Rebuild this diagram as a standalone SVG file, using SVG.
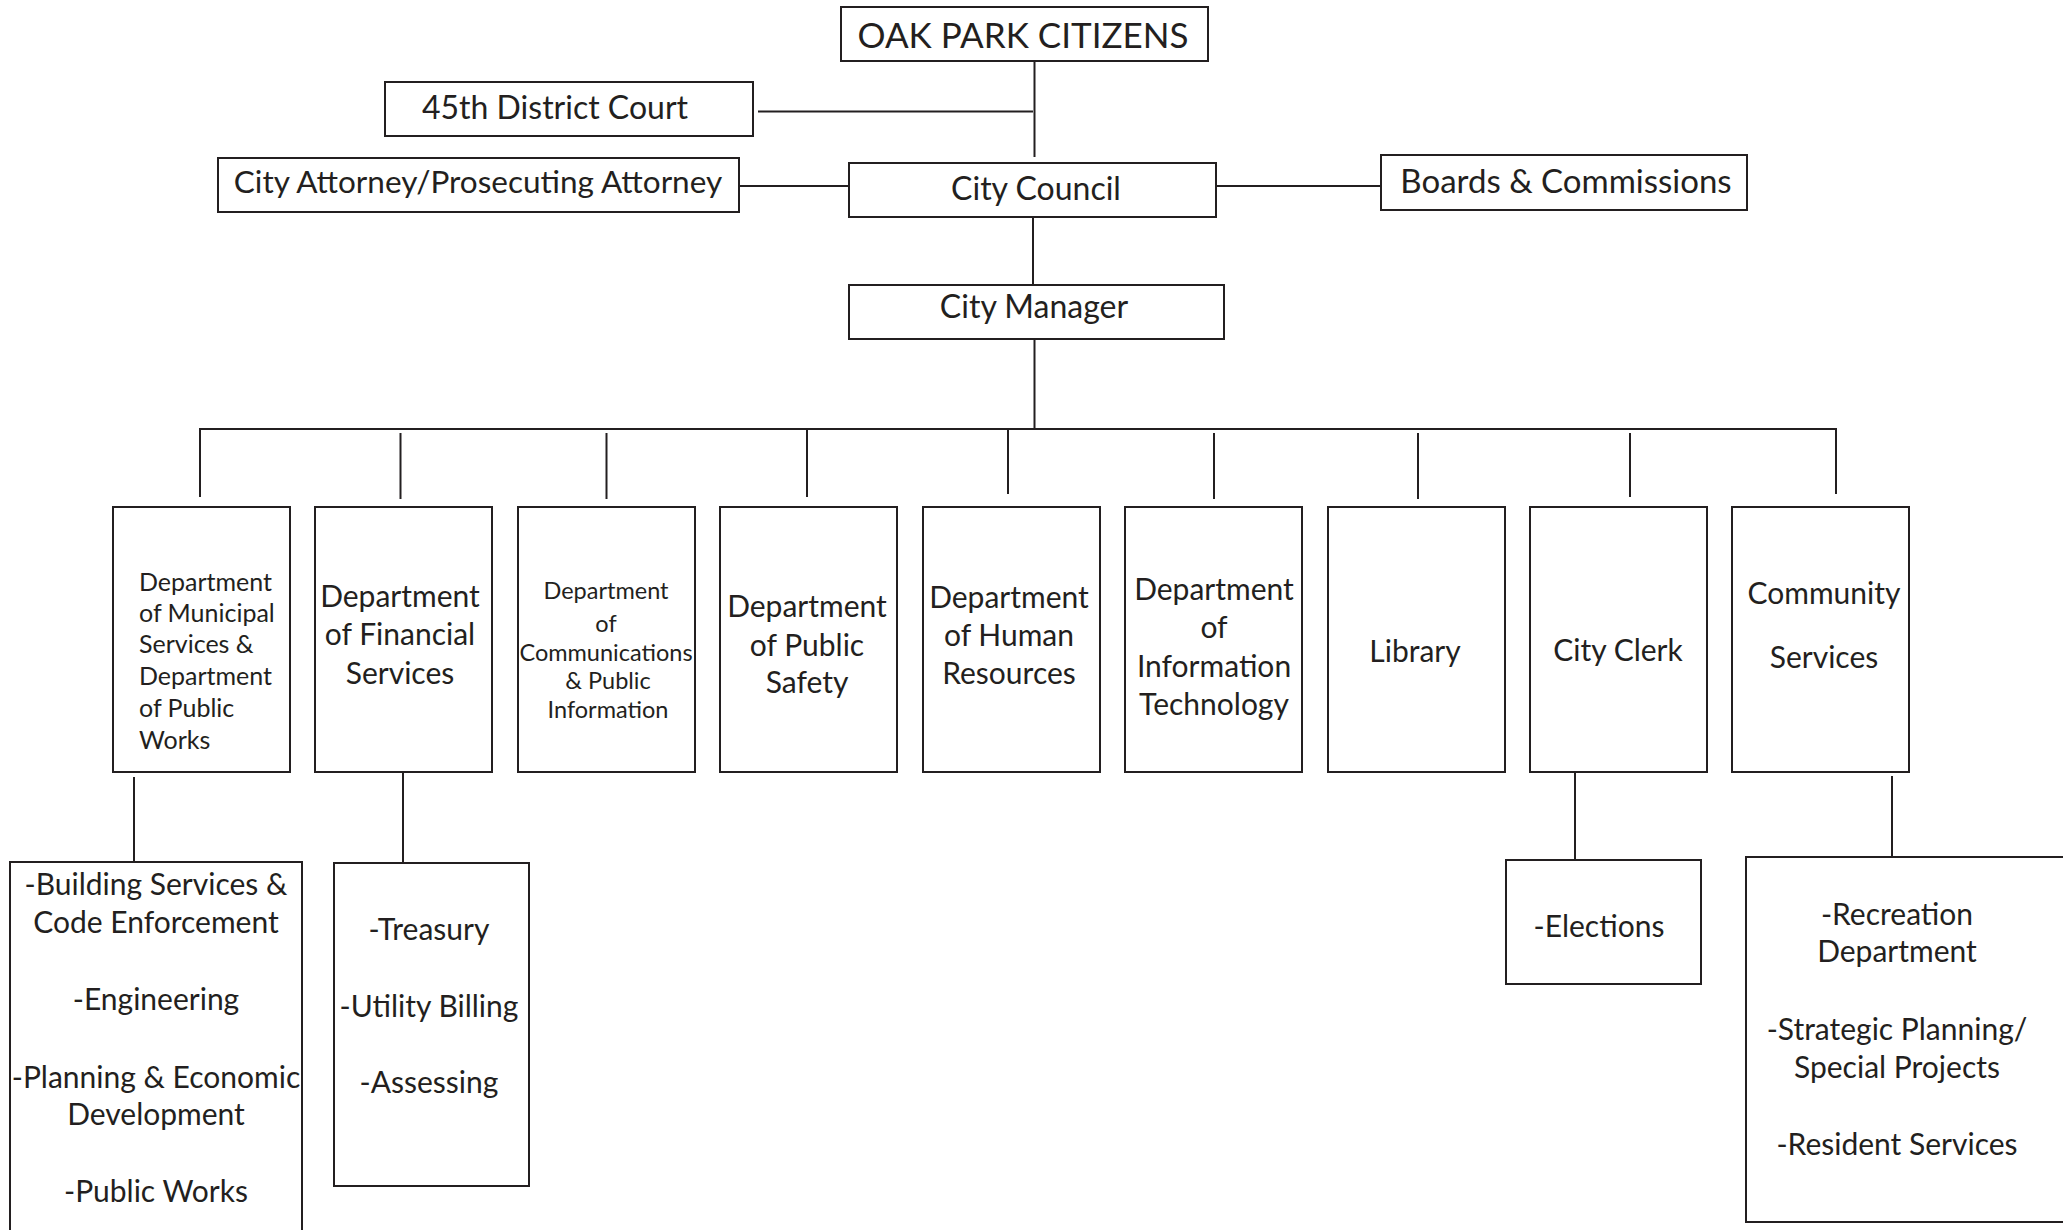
<svg xmlns="http://www.w3.org/2000/svg" width="2063" height="1230" viewBox="0 0 2063 1230">
<style>
rect{fill:#fff;stroke:#231f20;stroke-width:2}
.c line{stroke:#231f20;stroke-width:2}
text{font-family:Lato,"Open Sans","Liberation Sans",sans-serif;fill:#231f20;text-anchor:middle}
.t{font-size:32px}
.d{font-size:30px}
.s1{font-size:25px}
.s3{font-size:23.5px}
.sub{font-size:30px}
</style>
<rect x="0" y="0" width="2063" height="1230" style="stroke:none"/>
<g class="c">
<line x1="1034.5" y1="61" x2="1034.5" y2="157"/>
<line x1="758" y1="111.5" x2="1033" y2="111.5"/>
<line x1="739" y1="186" x2="849" y2="186"/>
<line x1="1216" y1="186" x2="1381" y2="186"/>
<line x1="1033" y1="217" x2="1033" y2="285"/>
<line x1="1034.5" y1="339" x2="1034.5" y2="429"/>
<line x1="199" y1="429" x2="1837" y2="429"/>
<line x1="200" y1="429" x2="200" y2="497"/>
<line x1="400.5" y1="433" x2="400.5" y2="499"/>
<line x1="606.5" y1="433" x2="606.5" y2="499"/>
<line x1="807" y1="429" x2="807" y2="497"/>
<line x1="1008" y1="429" x2="1008" y2="494"/>
<line x1="1214" y1="433" x2="1214" y2="499"/>
<line x1="1418" y1="433" x2="1418" y2="499"/>
<line x1="1630" y1="433" x2="1630" y2="497"/>
<line x1="1836" y1="429" x2="1836" y2="494"/>
<line x1="134" y1="777" x2="134" y2="862"/>
<line x1="403" y1="772" x2="403" y2="867"/>
<line x1="1575" y1="770" x2="1575" y2="864"/>
<line x1="1892" y1="776" x2="1892" y2="857"/>
</g>
<g id="citizens"><rect x="841" y="7" width="367" height="54"/><text x="1023" y="48" style="font-size:35px">OAK PARK CITIZENS</text></g>
<g id="court"><rect x="385" y="82" width="368" height="54"/><text class="t" x="555" y="119">45th District Court</text></g>
<g id="attorney"><rect x="218" y="158" width="521" height="54"/><text x="478" y="193" style="font-size:31.5px">City Attorney/Prosecuting Attorney</text></g>
<g id="council"><rect x="849" y="163" width="367" height="54"/><text class="t" x="1036" y="200">City Council</text></g>
<g id="boards"><rect x="1381" y="155" width="366" height="55"/><text x="1566" y="193" style="font-size:33px">Boards &amp; Commissions</text></g>
<g id="manager"><rect x="849" y="285" width="375" height="54"/><text class="t" x="1034" y="318">City Manager</text></g>
<g id="municipal"><rect x="113" y="507" width="177" height="265"/><text class="s1" style="text-anchor:start" x="139"><tspan x="139" y="591">Department</tspan><tspan x="139" y="622">of Municipal</tspan><tspan x="139" y="653">Services &amp;</tspan><tspan x="139" y="685">Department</tspan><tspan x="139" y="717">of Public</tspan><tspan x="139" y="749">Works</tspan></text></g>
<g id="financial"><rect x="315" y="507" width="177" height="265"/><text class="d"><tspan x="400" y="607">Department</tspan><tspan x="400" y="645">of Financial</tspan><tspan x="400" y="684">Services</tspan></text></g>
<g id="communications"><rect x="518" y="507" width="177" height="265"/><text class="s3"><tspan x="606" y="599">Department</tspan><tspan x="606" y="632">of</tspan><tspan x="606" y="661">Communications</tspan><tspan x="608" y="689">&amp; Public</tspan><tspan x="608" y="718">Information</tspan></text></g>
<g id="safety"><rect x="720" y="507" width="177" height="265"/><text class="d"><tspan x="807" y="617">Department</tspan><tspan x="807" y="656">of Public</tspan><tspan x="807" y="693">Safety</tspan></text></g>
<g id="hr"><rect x="923" y="507" width="177" height="265"/><text class="d"><tspan x="1009" y="608">Department</tspan><tspan x="1009" y="646">of Human</tspan><tspan x="1009" y="684">Resources</tspan></text></g>
<g id="it"><rect x="1125" y="507" width="177" height="265"/><text class="d"><tspan x="1214" y="600">Department</tspan><tspan x="1214" y="638">of</tspan><tspan x="1214" y="677">Information</tspan><tspan x="1214" y="715">Technology</tspan></text></g>
<g id="library"><rect x="1328" y="507" width="177" height="265"/><text class="d" x="1415" y="662">Library</text></g>
<g id="clerk"><rect x="1530" y="507" width="177" height="265"/><text class="d" x="1618" y="661">City Clerk</text></g>
<g id="community"><rect x="1732" y="507" width="177" height="265"/><text class="d"><tspan x="1824" y="604">Community</tspan><tspan x="1824" y="668">Services</tspan></text></g>
<g id="municipal-sub"><rect x="10" y="862" width="292" height="400"/><text class="sub"><tspan x="156" y="895">-Building Services &amp;</tspan><tspan x="156" y="933">Code Enforcement</tspan><tspan x="156" y="1010">-Engineering</tspan><tspan x="156" y="1088">-Planning &amp; Economic</tspan><tspan x="156" y="1125">Development</tspan><tspan x="156" y="1202">-Public Works</tspan></text></g>
<g id="financial-sub"><rect x="334" y="863" width="195" height="323"/><text class="sub"><tspan x="429" y="940">-Treasury</tspan><tspan x="429" y="1017">-Utility Billing</tspan><tspan x="429" y="1093">-Assessing</tspan></text></g>
<g id="elections"><rect x="1506" y="860" width="195" height="124"/><text class="sub" x="1599" y="937">-Elections</text></g>
<g id="community-sub"><rect x="1746" y="857" width="330" height="365"/><text class="sub"><tspan x="1897" y="925">-Recreation</tspan><tspan x="1897" y="962">Department</tspan><tspan x="1897" y="1040">-Strategic Planning/</tspan><tspan x="1897" y="1078">Special Projects</tspan><tspan x="1897" y="1155">-Resident Services</tspan></text></g>
</svg>
